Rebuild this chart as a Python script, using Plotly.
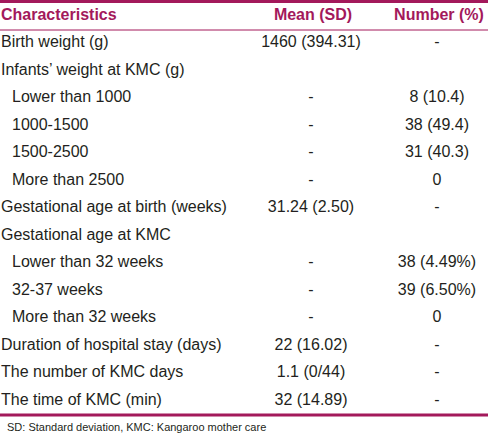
import plotly.graph_objects as go

# ---- data ----
headers = ["Characteristics", "Mean (SD)", "Number (%)"]
characteristics = [
    "Birth weight (g)",
    "Infants\u2019 weight at KMC (g)",
    "Lower than 1000",
    "1000-1500",
    "1500-2500",
    "More than 2500",
    "Gestational age at birth (weeks)",
    "Gestational age at KMC",
    "Lower than 32 weeks",
    "32-37 weeks",
    "More than 32 weeks",
    "Duration of hospital stay (days)",
    "The number of KMC days",
    "The time of KMC (min)",
]
indent_level = [0, 0, 1, 1, 1, 1, 0, 0, 1, 1, 1, 0, 0, 0]
mean_sd = ["1460 (394.31)", "", "-", "-", "-", "-", "31.24 (2.50)", "", "-", "-", "-",
           "22 (16.02)", "1.1 (0/44)", "32 (14.89)"]
number_pct = ["-", "", "8 (10.4)", "38 (49.4)", "31 (40.3)", "0", "-", "", "38 (4.49%)",
              "39 (6.50%)", "0", "-", "-", "-"]
footnote = "SD: Standard deviation, KMC: Kangaroo mother care"

# ---- layout constants ----
W, H = 488, 435
ACCENT = "#A3195B"
TEXT = "#231F20"
FONT = "Liberation Sans, Arial, sans-serif"
row0, row_h = 43, 27.5
header_y = 16
x_left, indent_px = 1, 11
x_mean, x_num = 311, 437

row_y = [row0 + row_h * i for i in range(len(characteristics))]
x_char = [x_left + indent_px * lv for lv in indent_level]

fig = go.Figure()

# body
fig.add_trace(go.Scatter(x=x_char, y=row_y, mode="text", text=characteristics,
                         textposition="middle right",
                         textfont=dict(family=FONT, size=16, color=TEXT),
                         hoverinfo="skip", showlegend=False))
fig.add_trace(go.Scatter(x=[x_mean] * len(mean_sd), y=row_y, mode="text", text=mean_sd,
                         textposition="middle center",
                         textfont=dict(family=FONT, size=16, color=TEXT),
                         hoverinfo="skip", showlegend=False))
fig.add_trace(go.Scatter(x=[x_num] * len(number_pct), y=row_y, mode="text", text=number_pct,
                         textposition="middle center",
                         textfont=dict(family=FONT, size=16, color=TEXT),
                         hoverinfo="skip", showlegend=False))

# header
fig.add_trace(go.Scatter(x=[x_left], y=[header_y], mode="text", text=["<b>%s</b>" % headers[0]],
                         textposition="middle right",
                         textfont=dict(family=FONT, size=16, color=ACCENT),
                         hoverinfo="skip", showlegend=False))
fig.add_trace(go.Scatter(x=[x_mean + 2, x_num + 2], y=[header_y, header_y], mode="text",
                         text=["<b>%s</b>" % h for h in headers[1:]],
                         textposition="middle center",
                         textfont=dict(family=FONT, size=16, color=ACCENT),
                         hoverinfo="skip", showlegend=False))

# footnote
fig.add_trace(go.Scatter(x=[7], y=[428], mode="text", text=[footnote],
                         textposition="middle right",
                         textfont=dict(family=FONT, size=11, color=TEXT),
                         hoverinfo="skip", showlegend=False))

# rules
fig.add_shape(type="line", x0=0, x1=W, y0=1.5, y1=1.5, xref="x", yref="y",
              line=dict(color=ACCENT, width=3))
fig.add_shape(type="line", x0=0, x1=W, y0=30, y1=30, xref="x", yref="y",
              line=dict(color=ACCENT, width=1))
fig.add_shape(type="line", x0=0, x1=W, y0=415, y1=415, xref="x", yref="y",
              line=dict(color=ACCENT, width=3))

fig.update_layout(
    width=W, height=H,
    margin=dict(l=0, r=0, t=0, b=0),
    paper_bgcolor="white", plot_bgcolor="white",
    xaxis=dict(range=[0, W], visible=False, fixedrange=True),
    yaxis=dict(range=[H, 0], visible=False, fixedrange=True),
)

fig.write_html("out.html",
               config={"displayModeBar": False, "staticPlot": True},
               post_script="document.body.style.margin='0';document.body.style.overflow='hidden';")
